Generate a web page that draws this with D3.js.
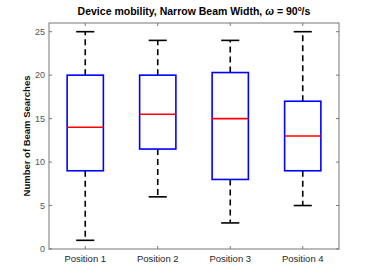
<!DOCTYPE html>
<html>
<head>
<meta charset="utf-8">
<script src="https://cdn.jsdelivr.net/npm/d3@7"></script>
<style>
  body { margin: 0; background: #fff; }
  svg { font-family: "Liberation Sans", Arial, sans-serif; }
</style>
</head>
<body>
<svg width="374" height="280"></svg>
<script>
const categories = ["Position 1", "Position 2", "Position 3", "Position 4"];
const lowerWhisker = [1, 6, 3, 5];
const q1 = [9, 11.5, 8, 9];
const median = [14, 15.5, 15, 13];
const q3 = [20, 20, 20.3, 17];
const upperWhisker = [25, 24, 24, 25];
const yTicks = [0, 5, 10, 15, 20, 25];

const margin = { left: 49, right: 35, top: 23, bottom: 31 };
const width = 374, height = 280;

const svg = d3.select("svg");

const x = d3.scaleLinear()
    .domain([0.5, 4.5])
    .range([margin.left, width - margin.right]);

const y = d3.scaleLinear()
    .domain([0, 26])
    .range([height - margin.bottom, margin.top]);

const boxes = categories.map((c, i) => ({
    name: c, pos: i + 1,
    lo: lowerWhisker[i], q1: q1[i], med: median[i], q3: q3[i], hi: upperWhisker[i]
}));

const axisColor = "#262626";
const tickColor = "#555";

// axis frame
svg.append("rect")
    .attr("x", x(0.5)).attr("y", y(26))
    .attr("width", x(4.5) - x(0.5)).attr("height", y(0) - y(26))
    .attr("fill", "none").attr("stroke", "#777").attr("stroke-width", 1);

// y ticks, inward on both sides
const yTick = svg.selectAll(".ytick").data(yTicks).enter().append("g").attr("class", "ytick");
yTick.append("line")
    .attr("x1", x(0.5)).attr("x2", x(0.5) + 3)
    .attr("y1", d => y(d)).attr("y2", d => y(d))
    .attr("stroke", "#777");
yTick.append("line")
    .attr("x1", x(4.5)).attr("x2", x(4.5) - 3)
    .attr("y1", d => y(d)).attr("y2", d => y(d))
    .attr("stroke", "#777");
yTick.append("text")
    .attr("x", x(0.5) - 4).attr("y", d => y(d)).attr("dy", "0.35em")
    .attr("text-anchor", "end").attr("font-size", 9).attr("fill", tickColor)
    .text(d => d);

// x ticks, inward top and bottom
const xTick = svg.selectAll(".xtick").data(boxes).enter().append("g").attr("class", "xtick");
xTick.append("line")
    .attr("x1", d => x(d.pos)).attr("x2", d => x(d.pos))
    .attr("y1", y(0)).attr("y2", y(0) - 3)
    .attr("stroke", "#777");
xTick.append("line")
    .attr("x1", d => x(d.pos)).attr("x2", d => x(d.pos))
    .attr("y1", y(26)).attr("y2", y(26) + 3)
    .attr("stroke", "#777");
xTick.append("text")
    .attr("x", d => x(d.pos)).attr("y", y(0) + 13)
    .attr("text-anchor", "middle").attr("font-size", 9.5).attr("fill", axisColor)
    .text(d => d.name);

const boxW = (x(1) - x(0)) * 0.5;
const capW = (x(1) - x(0)) * 0.25;

const g = svg.selectAll(".box").data(boxes).enter().append("g").attr("class", "box");

// whiskers
g.append("line")
    .attr("x1", d => x(d.pos)).attr("x2", d => x(d.pos))
    .attr("y1", d => y(d.q3)).attr("y2", d => y(d.hi))
    .attr("stroke", "#000").attr("stroke-width", 1.6).attr("stroke-dasharray", "6,4");
g.append("line")
    .attr("x1", d => x(d.pos)).attr("x2", d => x(d.pos))
    .attr("y1", d => y(d.q1)).attr("y2", d => y(d.lo))
    .attr("stroke", "#000").attr("stroke-width", 1.6).attr("stroke-dasharray", "6,4");
g.append("line")
    .attr("x1", d => x(d.pos) - capW / 2).attr("x2", d => x(d.pos) + capW / 2)
    .attr("y1", d => y(d.hi)).attr("y2", d => y(d.hi))
    .attr("stroke", "#000").attr("stroke-width", 1.6);
g.append("line")
    .attr("x1", d => x(d.pos) - capW / 2).attr("x2", d => x(d.pos) + capW / 2)
    .attr("y1", d => y(d.lo)).attr("y2", d => y(d.lo))
    .attr("stroke", "#000").attr("stroke-width", 1.6);

// box
g.append("rect")
    .attr("x", d => x(d.pos) - boxW / 2).attr("width", boxW)
    .attr("y", d => y(d.q3)).attr("height", d => y(d.q1) - y(d.q3))
    .attr("fill", "none").attr("stroke", "#0000ff").attr("stroke-width", 1.6);

// median
g.append("line")
    .attr("x1", d => x(d.pos) - boxW / 2).attr("x2", d => x(d.pos) + boxW / 2)
    .attr("y1", d => y(d.med)).attr("y2", d => y(d.med))
    .attr("stroke", "#ff0000").attr("stroke-width", 1.6);

// y label
svg.append("text")
    .attr("transform", `translate(${margin.left - 19},${(y(0) + y(26)) / 2}) rotate(-90)`)
    .attr("text-anchor", "middle").attr("font-size", 9.5).attr("fill", "#111")
    .attr("font-weight", "bold")
    .text("Number of Beam Searches");

// title
const title = svg.append("text")
    .attr("x", (x(0.5) + x(4.5)) / 2).attr("y", 15)
    .attr("text-anchor", "middle").attr("font-size", 10.5).attr("font-weight", "bold")
    .attr("fill", "#000");
title.append("tspan").text("Device mobility, Narrow Beam Width, ");
title.append("tspan").attr("font-style", "italic").text("ω");
title.append("tspan").text(" = 90");
title.append("tspan").attr("font-size", 6.5).attr("dy", -4).text("o");
title.append("tspan").attr("dy", 4).text("/s");
</script>
</body>
</html>
